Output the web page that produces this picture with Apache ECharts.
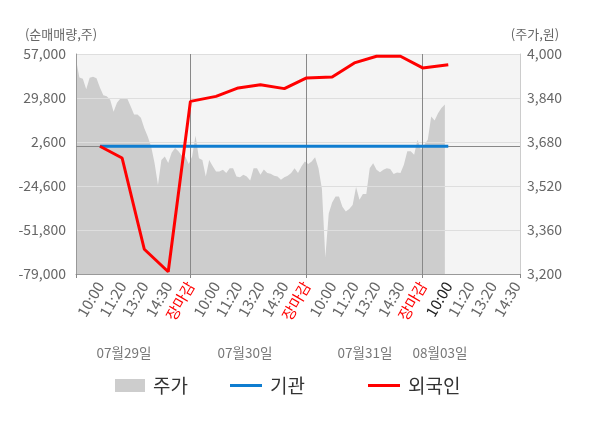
<!DOCTYPE html>
<html>
<head>
<meta charset="utf-8">
<script src="https://cdn.jsdelivr.net/npm/echarts@6/dist/echarts.min.js"></script>
<style>html,body{margin:0;padding:0;background:#fff}#c{width:600px;height:428px}</style>
</head>
<body>
<div id="c"></div>
<script>
// ---- data ----
const dayNames = ['07월29일', '07월30일', '07월31일', '08월03일'];
const slotLabels = ['10:00', '11:20', '13:20', '14:30', '장마감'];
const slotOffsets = [14, 27, 40, 54, 67];   // category slot of each label within a day
const slotsPerDay = [68, 68, 68, 57];
// 주가 (price, every 2nd slot)
const priceVals = [
  3980, 3915, 3910, 3872, 3914, 3917, 3912, 3878, 3850, 3846,
  3834, 3790, 3823, 3838, 3840, 3838, 3810, 3780, 3780, 3768,
  3730, 3700, 3664, 3604, 3524, 3615, 3627, 3604, 3641, 3658,
  3646, 3630, 3627, 3600, 3627,
  3703, 3621, 3615, 3555, 3615, 3593, 3573, 3573, 3579, 3567,
  3585, 3585, 3555, 3552, 3561, 3555, 3540, 3585, 3585, 3561,
  3580, 3567, 3565, 3557, 3555, 3543, 3552, 3557, 3567, 3585,
  3567, 3591, 3609, 3600,
  3609, 3625, 3585, 3510, 3260, 3420, 3460, 3482, 3482, 3445,
  3427, 3436, 3451, 3516, 3470, 3491, 3491, 3585, 3603, 3579,
  3570, 3579, 3585, 3582, 3564, 3569, 3567, 3597, 3646, 3646,
  3634, 3688, 3652, 3670, 3688, 3773, 3758, 3785, 3804, 3816
];
// 기관 / 외국인 net volume at each labelled time
const instVals = [0, 0, 0, 0, 0, 0, 0, 0, 0, 0, 0, 0, 0, 0, 0, 0];
const foreignVals = [0, -7300, -63700, -77600, 27700, 30800, 36000, 38000, 35600,
  42200, 42800, 51500, 55600, 55600, 48400, 50400];
const leftMin = -79000, leftMax = 57000, leftStep = 27200;
const rightMin = 3200, rightMax = 4000, rightStep = 160;

// ---- build category axis ----
const cats = [];
const labelIdx = [];
const dayEndIdx = [];
const tickIdx = [0];
slotsPerDay.forEach(function (n, d) {
  for (let i = 0; i < n; i++) {
    const idx = cats.length;
    const p = slotOffsets.indexOf(i);
    if (p >= 0) {
      labelIdx.push(idx);
      let col = '#666';
      if (p === 4) { col = '#ff0000'; dayEndIdx.push(idx); tickIdx.push(idx); }
      else if (d === 3 && p === 0) col = '#222';
      cats.push({ value: slotLabels[p], textStyle: { color: col } });
    } else {
      cats.push({ value: '' });
    }
  }
});
tickIdx.push(cats.length - 1);

const fmt = v => Number(v).toLocaleString('en-US');
const FONT = '"Noto Sans CJK KR", "Noto Sans", sans-serif';
const legendText = { fontSize: 19, color: '#333', fontFamily: FONT, padding: [0, 0, 0, 3] };

const chart = echarts.init(document.getElementById('c'), null, { renderer: 'canvas' });
chart.setOption({
  animation: false,
  backgroundColor: '#fff',
  textStyle: { fontFamily: FONT },
  grid: { left: 76, right: 80, top: 54, bottom: 154, show: true, backgroundColor: '#f4f4f4', borderWidth: 0 },
  legend: [
    { data: ['주가'], left: 115, top: 376, padding: 0, icon: 'rect', itemWidth: 30, itemHeight: 13, itemGap: 0, textStyle: legendText },
    { data: ['기관'], left: 230, top: 376, padding: 0, icon: 'rect', itemWidth: 32, itemHeight: 3, itemGap: 0, textStyle: legendText },
    { data: ['외국인'], left: 368, top: 376, padding: 0, icon: 'rect', itemWidth: 32, itemHeight: 3, itemGap: 0, textStyle: legendText }
  ],
  xAxis: {
    type: 'category',
    data: cats,
    boundaryGap: false,
    z: 5,
    axisLine: { onZero: false, lineStyle: { color: '#999' } },
    axisTick: { show: true, length: 4, interval: (i) => tickIdx.indexOf(i) >= 0, lineStyle: { color: '#888' } },
    splitLine: { show: true, interval: (i) => dayEndIdx.indexOf(i) >= 0, lineStyle: { color: '#888', width: 1 } },
    axisLabel: { interval: (i, v) => v !== '', rotate: 60, fontSize: 15, margin: 9, color: '#666', fontFamily: FONT }
  },
  yAxis: [
    { type: 'value', position: 'left', min: leftMin, max: leftMax, interval: leftStep, z: 5,
      axisLine: { show: true, lineStyle: { color: '#999' } }, axisTick: { show: false },
      splitLine: { show: true, lineStyle: { color: '#dedede' } },
      axisLabel: { formatter: fmt, fontSize: 14, color: '#666', margin: 10, fontFamily: FONT } },
    { type: 'value', position: 'right', min: rightMin, max: rightMax, interval: rightStep, z: 5,
      axisLine: { show: true, lineStyle: { color: '#ccc' } }, axisTick: { show: false },
      splitLine: { show: false },
      axisLabel: { formatter: fmt, fontSize: 14, color: '#666', margin: 7, fontFamily: FONT } }
  ],
  series: [
    { name: '주가', type: 'line', yAxisIndex: 1, z: 2, silent: true,
      data: priceVals.map((v, k) => [k * 2, v]),
      showSymbol: false, symbol: 'none',
      lineStyle: { width: 0, color: '#cdcdcd' },
      itemStyle: { color: '#cdcdcd' },
      areaStyle: { color: '#cdcdcd', opacity: 1, origin: 'start' } },
    { name: '기관', type: 'line', yAxisIndex: 0, z: 10, silent: true,
      data: instVals.map((v, k) => [labelIdx[k], v]),
      showSymbol: false, symbol: 'none',
      lineStyle: { width: 3, color: '#0f7dd0' }, itemStyle: { color: '#0f7dd0' },
      markLine: { silent: true, symbol: 'none', z: 6, label: { show: false },
        lineStyle: { color: '#888', width: 1, type: 'solid' }, data: [{ yAxis: 0 }] } },
    { name: '외국인', type: 'line', yAxisIndex: 0, z: 11, silent: true,
      data: foreignVals.map((v, k) => [labelIdx[k], v]),
      showSymbol: false, symbol: 'none',
      lineStyle: { width: 3, color: '#ff0000' }, itemStyle: { color: '#ff0000' } }
  ],
  graphic: [
    { type: 'text', x: 61, y: 34, style: { text: '(순매매량,주)', fill: '#666', font: '13px ' + FONT, textAlign: 'center', textVerticalAlign: 'middle', verticalAlign: 'middle' } },
    { type: 'text', x: 535, y: 34, style: { text: '(주가,원)', fill: '#666', font: '13px ' + FONT, textAlign: 'center', textVerticalAlign: 'middle', verticalAlign: 'middle' } },
    { type: 'text', x: 124, y: 353, style: { text: dayNames[0], fill: '#777', font: '13.5px ' + FONT, textAlign: 'center', textVerticalAlign: 'middle', verticalAlign: 'middle' } },
    { type: 'text', x: 245, y: 353, style: { text: dayNames[1], fill: '#777', font: '13.5px ' + FONT, textAlign: 'center', textVerticalAlign: 'middle', verticalAlign: 'middle' } },
    { type: 'text', x: 365, y: 353, style: { text: dayNames[2], fill: '#777', font: '13.5px ' + FONT, textAlign: 'center', textVerticalAlign: 'middle', verticalAlign: 'middle' } },
    { type: 'text', x: 440, y: 353, style: { text: dayNames[3], fill: '#777', font: '13.5px ' + FONT, textAlign: 'center', textVerticalAlign: 'middle', verticalAlign: 'middle' } }
  ]
});
</script>
</body>
</html>
